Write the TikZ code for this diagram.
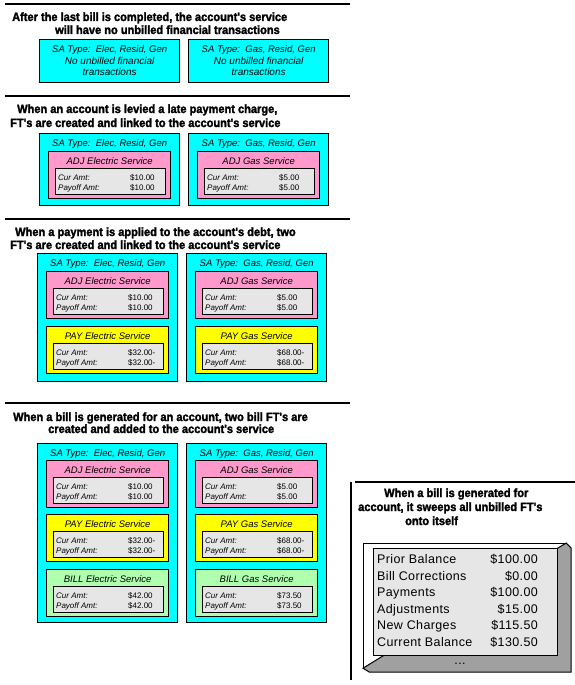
\documentclass[tikz,border=0pt]{standalone}
\usepackage{fontspec}
\setmainfont{Liberation Sans}
\newfontfamily\headfont{Liberation Sans Bold}[FakeStretch=0.92, FakeBold=2]
\newfontfamily\billfont{Liberation Sans}[LetterSpace=3]
\definecolor{sacyan}{HTML}{00FFFF}
\definecolor{adjpink}{HTML}{FF99CC}
\definecolor{payyellow}{HTML}{FFFF00}
\definecolor{billgreen}{HTML}{AFFFAF}
\definecolor{amtgray}{HTML}{E6E6E6}
\definecolor{shadowgray}{HTML}{A0A0A0}

\tikzset{
  rule/.style={line width=2pt},
  head/.style={anchor=base west, inner sep=0pt, font=\headfont\fontsize{12}{14}\selectfont},
  sabox/.style={draw, line width=1.3pt, fill=sacyan, anchor=north west, inner sep=0pt, minimum width=140pt},
  ftbox/.style={draw, line width=1.3pt, anchor=north west, inner sep=0pt, minimum width=122pt, minimum height=47pt},
  amtbox/.style={draw, line width=1.2pt, fill=amtgray, anchor=north west, inner sep=0pt, minimum width=110pt, minimum height=26pt},
  satext/.style={anchor=base, inner sep=0pt, font=\itshape\fontsize{9.5}{11}\selectfont},
  notext/.style={anchor=base, inner sep=0pt, font=\itshape\fontsize{10}{11}\selectfont},
  amtlabel/.style={anchor=base west, inner sep=0pt, font=\itshape\fontsize{8}{9}\selectfont},
  amtval/.style={anchor=base west, inner sep=0pt, font=\fontsize{8}{9}\selectfont},
  billtext/.style={inner sep=0pt, font=\billfont\fontsize{12.5}{14}\selectfont}
}

% one financial transaction: name, x, y, colour, title, cur amt, payoff amt
\newcommand{\ftblock}[7]{%
  \node[ftbox, fill=#4] (#1) at (#2,#3) {};
  \node[satext] at ([yshift=-13.5pt]#1.north) {#5};
  \node[amtbox] (#1a) at ([xshift=7pt,yshift=-17pt]#1.north west) {};
  \node[amtlabel] at ([xshift=3pt,yshift=-12pt]#1a.north west) {Cur Amt:};
  \node[amtval] at ([xshift=75pt,yshift=-12pt]#1a.north west) {#6};
  \node[amtlabel] at ([xshift=3pt,yshift=-22pt]#1a.north west) {Payoff Amt:};
  \node[amtval] at ([xshift=75pt,yshift=-22pt]#1a.north west) {#7};
}

\begin{document}
\begin{tikzpicture}[x=1pt,y=-1pt]
  \useasboundingbox (0,0) rectangle (575,685);

  % after the last bill
  \draw[rule] (5,4) -- (350,4);
  \node[head] (h1a) at (12,21) {After the last bill is completed, the account's service};
  \node[head] (h1b) at (55,34) {will have no unbilled financial transactions};
  \node[sabox, minimum height=43pt] (sa1e) at (39,39) {};
  \node[satext] at ([yshift=-13.5pt]sa1e.north) {SA Type:\ \ Elec, Resid, Gen};
  \node[notext] at ([yshift=-25.5pt]sa1e.north) {No unbilled financial};
  \node[notext] at ([yshift=-36pt]sa1e.north) {transactions};
  \node[sabox, minimum height=43pt] (sa1g) at (188,39) {};
  \node[satext] at ([yshift=-13.5pt]sa1g.north) {SA Type:\ \ Gas, Resid, Gen};
  \node[notext] at ([yshift=-25.5pt]sa1g.north) {No unbilled financial};
  \node[notext] at ([yshift=-36pt]sa1g.north) {transactions};

  % late payment charge
  \draw[rule] (5,96) -- (350,96);
  \node[head] (h2a) at (17,113) {When an account is levied a late payment charge,};
  \node[head] (h2b) at (10,127) {FT's are created and linked to the account's service};
  \node[sabox, minimum height=72pt] (sa2e) at (39,133) {};
  \node[satext] at ([yshift=-13.5pt]sa2e.north) {SA Type:\ \ Elec, Resid, Gen};
  \ftblock{adj2e}{48}{151}{adjpink}{ADJ Electric Service}{\$10.00}{\$10.00}
  \node[sabox, minimum height=72pt] (sa2g) at (188,133) {};
  \node[satext] at ([yshift=-13.5pt]sa2g.north) {SA Type:\ \ Gas, Resid, Gen};
  \ftblock{adj2g}{197}{151}{adjpink}{ADJ Gas Service}{\$5.00}{\$5.00}

  % payment applied
  \draw[rule] (5,219) -- (350,219);
  \node[head] (h3a) at (15,236) {When a payment is applied to the account's debt, two};
  \node[head] (h3b) at (10,249) {FT's are created and linked to the account's service};
  \node[sabox, minimum height=128pt] (sa3e) at (37,253) {};
  \node[satext] at ([yshift=-13.5pt]sa3e.north) {SA Type:\ \ Elec, Resid, Gen};
  \ftblock{adj3e}{46}{271}{adjpink}{ADJ Electric Service}{\$10.00}{\$10.00}
  \ftblock{pay3e}{46}{326}{payyellow}{PAY Electric Service}{\$32.00-}{\$32.00-}
  \node[sabox, minimum height=128pt] (sa3g) at (186,253) {};
  \node[satext] at ([yshift=-13.5pt]sa3g.north) {SA Type:\ \ Gas, Resid, Gen};
  \ftblock{adj3g}{195}{271}{adjpink}{ADJ Gas Service}{\$5.00}{\$5.00}
  \ftblock{pay3g}{195}{326}{payyellow}{PAY Gas Service}{\$68.00-}{\$68.00-}

  % bill generated
  \draw[rule] (5,403) -- (350,403);
  \node[head] (h4a) at (13,421) {When a bill is generated for an account, two bill FT's are};
  \node[head] (h4b) at (48,433) {created and added to the account's service};
  \node[sabox, minimum height=179pt] (sa4e) at (37,443) {};
  \node[satext] at ([yshift=-13.5pt]sa4e.north) {SA Type:\ \ Elec, Resid, Gen};
  \ftblock{adj4e}{46}{460}{adjpink}{ADJ Electric Service}{\$10.00}{\$10.00}
  \ftblock{pay4e}{46}{514}{payyellow}{PAY Electric Service}{\$32.00-}{\$32.00-}
  \ftblock{bill4e}{46}{569}{billgreen}{BILL Electric Service}{\$42.00}{\$42.00}
  \node[sabox, minimum height=179pt] (sa4g) at (186,443) {};
  \node[satext] at ([yshift=-13.5pt]sa4g.north) {SA Type:\ \ Gas, Resid, Gen};
  \ftblock{adj4g}{195}{460}{adjpink}{ADJ Gas Service}{\$5.00}{\$5.00}
  \ftblock{pay4g}{195}{514}{payyellow}{PAY Gas Service}{\$68.00-}{\$68.00-}
  \ftblock{bill4g}{195}{569}{billgreen}{BILL Gas Service}{\$73.50}{\$73.50}

  % the bill
  \draw[rule] (351,680) -- (351,482);
  \draw[rule] (355,482) -- (575,482);
  \node[head] (h5a) at (384,497) {When a bill is generated for};
  \node[head] (h5b) at (358,511) {account, it sweeps all unbilled FT's};
  \node[head] (h5c) at (405,525) {onto itself};
  \node[draw, line width=1.2pt, fill=white, anchor=north west, inner sep=0pt,
    minimum width=202pt, minimum height=124pt] (bill) at (363,543) {};
  \draw[line width=1pt, fill=shadowgray] (bill.north east) -- ++(5,5) -- ++(0,124)
    -- ++(-202,0) -- (bill.south west) -- cycle;
  \node[draw, line width=1.2pt, fill=amtgray, anchor=north west, inner sep=0pt,
    minimum width=184pt, minimum height=107pt] (billg) at (373,548) {};
  \node[billtext, anchor=base west] (l1) at (377,563.5) {Prior Balance};
  \node[billtext, anchor=base east] (v1) at (538,563.5) {\$100.00};
  \node[billtext, anchor=base west] (l2) at (377,580) {Bill Corrections};
  \node[billtext, anchor=base east] (v2) at (538,580) {\$0.00};
  \node[billtext, anchor=base west] (l3) at (377,596.5) {Payments};
  \node[billtext, anchor=base east] (v3) at (538,596.5) {\$100.00};
  \node[billtext, anchor=base west] (l4) at (377,613) {Adjustments};
  \node[billtext, anchor=base east] (v4) at (538,613) {\$15.00};
  \node[billtext, anchor=base west] (l5) at (377,629.5) {New Charges};
  \node[billtext, anchor=base east] (v5) at (538,629.5) {\$115.50};
  \node[billtext, anchor=base west] (l6) at (377,646) {Current Balance};
  \node[billtext, anchor=base east] (v6) at (538,646) {\$130.50};
  \node[billtext, anchor=base] (more) at (460,664) {...};
\end{tikzpicture}
\end{document}
